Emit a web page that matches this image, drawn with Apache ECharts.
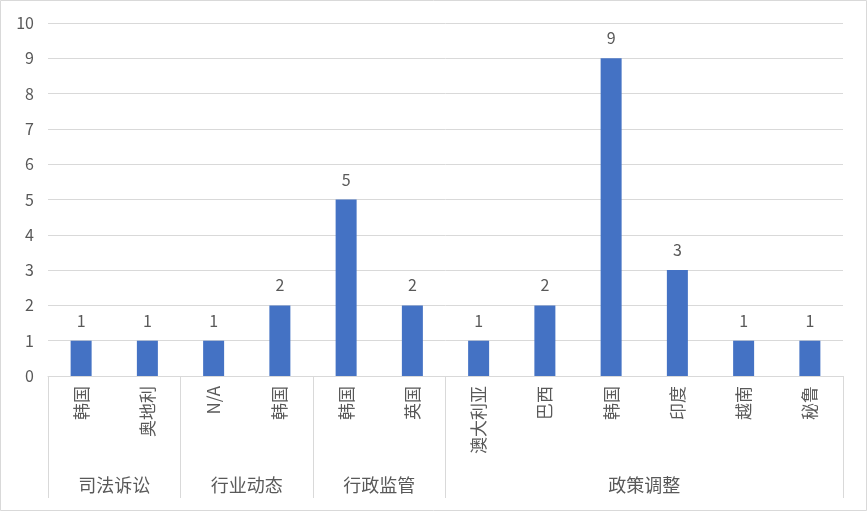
<!DOCTYPE html>
<html><head><meta charset="utf-8">
<script src="https://cdn.jsdelivr.net/npm/echarts@6/dist/echarts.min.js"></script>
<style>html,body{margin:0;padding:0;background:#fff}#c{width:867px;height:511px}</style>
</head><body><div id="c"></div>
<script>
const categories = ['韩国','奥地利','N/A','韩国','韩国','英国','澳大利亚','巴西','韩国','印度','越南','秘鲁'];
const values = [1,1,1,2,5,2,1,2,9,3,1,1];
const groups = ['司法诉讼','行业动态','行政监管','政策调整'];
const groupSizes = [2,2,2,6];

const FONT = '"Noto Sans CJK SC", "Microsoft YaHei", sans-serif';
const TXT = '#595959';
const LINE = '#d9d9d9';

const bounds = [0];
const centers = [];
groupSizes.forEach((s, i) => { centers.push(bounds[i] + s / 2); bounds.push(bounds[i] + s); });

const chart = echarts.init(document.getElementById('c'));
chart.setOption({
  animation: false,
  backgroundColor: '#fff',
  grid: { left: 48, right: 24, top: 23, bottom: 135, containLabel: false },
  xAxis: [
    {
      type: 'category', data: categories, boundaryGap: true,
      axisLine: { show: true, lineStyle: { color: LINE, width: 1 } },
      axisTick: { show: false },
      axisLabel: { interval: 0, rotate: 90, margin: 10, color: TXT, fontSize: 17, fontFamily: FONT }
    },
    {
      type: 'value', min: 0, max: bounds[bounds.length - 1], position: 'bottom',
      axisLine: { show: false },
      splitLine: { show: false },
      axisTick: { show: true, customValues: bounds, length: 122, lineStyle: { color: LINE, width: 1 } },
      axisLabel: {
        customValues: centers, margin: 100, color: TXT, fontSize: 18, fontFamily: FONT,
        formatter: v => { const i = centers.indexOf(v); return i >= 0 ? groups[i] : ''; }
      }
    }
  ],
  yAxis: {
    type: 'value', min: 0, max: 10, interval: 1,
    axisLine: { show: false }, axisTick: { show: false },
    axisLabel: { margin: 14, color: TXT, fontSize: 16, fontFamily: FONT },
    splitLine: { lineStyle: { color: LINE, width: 1 } }
  },
  series: [{
    type: 'bar', xAxisIndex: 0, data: values, barWidth: 21,
    itemStyle: { color: '#4472C4' },
    label: { show: true, position: 'top', distance: 12, color: TXT, fontSize: 16, fontFamily: FONT }
  }],
  graphic: [{
    type: 'rect', shape: { x: 0.5, y: 0.5, width: 866, height: 510 },
    style: { fill: null, stroke: LINE, lineWidth: 1 }, silent: true
  }]
});
</script></body></html>
